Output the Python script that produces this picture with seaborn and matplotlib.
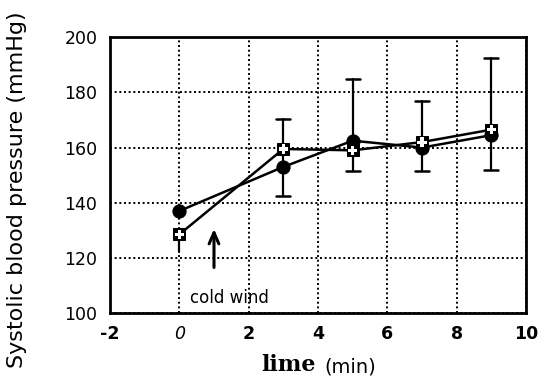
import matplotlib
matplotlib.use("Agg")
import matplotlib.pyplot as plt
import seaborn as sns
import pandas as pd

time = [0, 3, 5, 7, 9]
filled_bp = [137, 153, 162.5, 160, 164.5]
open_bp = [128.5, 159.5, 159, 162, 166.5]
err_low = [122, 142.5, 151.5, 151.5, 152]
err_high = [128.5, 170.5, 185, 177, 192.5]
xticks = [-2, 0, 2, 4, 6, 8, 10]
yticks = [100, 120, 140, 160, 180, 200]

sns.set_style("white")
plt.rcParams['font.family'] = ['DejaVu Sans']
plt.rcParams['text.color'] = 'black'
plt.rcParams['xtick.color'] = 'black'
plt.rcParams['ytick.color'] = 'black'

fig = plt.figure(figsize=(5.48, 3.84), dpi=100)
ax = fig.add_axes([0.2007, 0.185, 0.7592, 0.7178])

df = pd.DataFrame({
    "time": time * 2,
    "bp": filled_bp + open_bp,
    "group": ["filled"] * len(time) + ["open"] * len(time),
})

# error bars
for t, lo, hi in zip(time, err_low, err_high):
    ax.plot([t, t], [lo, hi], color="black", lw=1.6, zorder=2)
    if t != 0:
        ax.plot([t - 0.2, t + 0.2], [lo, lo], color="black", lw=1.8, zorder=2)
        ax.plot([t - 0.2, t + 0.2], [hi, hi], color="black", lw=1.8, zorder=2)

sns.lineplot(data=df[df.group == "filled"], x="time", y="bp", ax=ax,
             color="black", lw=1.8, marker="o", markersize=9.5,
             markerfacecolor="black", markeredgecolor="black", zorder=3)
sns.lineplot(data=df[df.group == "open"], x="time", y="bp", ax=ax,
             color="black", lw=1.8, marker="s", markersize=8.5,
             markerfacecolor="black", markeredgecolor="black", zorder=4)
ax.scatter(df[df.group == "open"]["time"], df[df.group == "open"]["bp"],
           marker="P", s=45, color="white", edgecolors="none", zorder=5)

ax.set_xlim(-2, 10)
ax.set_ylim(100, 200)
ax.set_xticks(xticks)
ax.set_yticks(yticks)
ax.set_yticklabels([str(v) for v in yticks], fontsize=12.5, color="black")
labels = ax.set_xticklabels([str(v) for v in xticks], fontsize=12.5,
                            fontweight="bold", color="black")
labels[1].set_fontstyle("italic")
labels[1].set_fontweight("normal")

ax.grid(True, color="black", linestyle=(0, (1, 1.4)), lw=1.4)
for s in ax.spines.values():
    s.set_visible(True)
    s.set_color("black")
    s.set_linewidth(2)
ax.tick_params(axis="both", length=3, width=1.2, color="black", pad=6)

ax.set_xlabel("")
ax.set_ylabel("")
fig.text(17 / 548, 1 - 190 / 384, "Systolic blood pressure (mmHg)",
         fontsize=16, rotation=90, ha="center", va="center", color="black")
fig.text(0.577, 0.02, "lime", fontsize=16, fontweight="bold",
         family=["DejaVu Serif"], ha="right", va="bottom", color="black")
fig.text(0.592, 0.02, "(min)", fontsize=14, ha="left", va="bottom", color="black")

ax.annotate("", xy=(1.0, 131.5), xytext=(1.0, 115.5),
            arrowprops=dict(arrowstyle="->,head_length=0.8,head_width=0.35",
                            color="black", lw=2.2))
ax.text(1.45, 105.5, "cold wind", fontsize=12, ha="center", va="center",
        family=["Liberation Sans Narrow", "DejaVu Sans"], color="black")

fig.savefig("out.png", dpi=100, facecolor="white")
